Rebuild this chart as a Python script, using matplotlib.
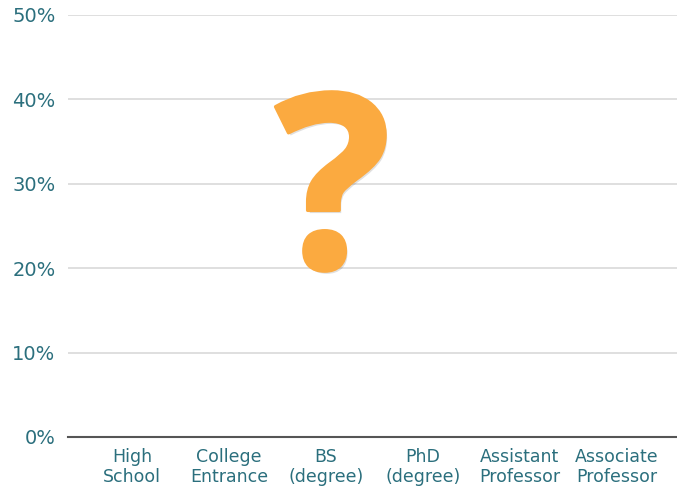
import matplotlib
matplotlib.use("Agg")
import matplotlib.pyplot as plt
import matplotlib.patheffects as pe
from matplotlib.ticker import PercentFormatter

# Data
categories = ["High\nSchool", "College\nEntrance", "BS\n(degree)", "PhD\n(degree)",
              "Assistant\nProfessor", "Associate\nProfessor"]
values = [0, 0, 0, 0, 0, 0]  # unknown -- the chart is shown empty
y_ticks = [0, 10, 20, 30, 40, 50]

TEAL = "#2b6f7d"
ORANGE = "#fbaa40"
GRID = "#d9d9d9"

plt.rcParams["font.family"] = ["DejaVu Sans"]

fig = plt.figure(figsize=(6.77, 4.87), dpi=100)
ax = fig.add_axes([68 / 677, 50 / 487, 1 - 68 / 677, 422 / 487])

x = list(range(len(categories)))
ax.bar(x, values, width=0.6, color=ORANGE)

ax.set_ylim(0, 50)
ax.set_xlim(-0.66, 5.62)
ax.set_yticks(y_ticks)
ax.yaxis.set_major_formatter(PercentFormatter(decimals=0))
ax.set_xticks(x)
ax.set_xticklabels(categories, color=TEAL, fontsize=12.5, linespacing=1.1)
ax.tick_params(axis="y", colors=TEAL, labelsize=14, length=0, pad=9)
ax.tick_params(axis="x", length=0, pad=8)

ax.grid(axis="y", color=GRID, linewidth=1.2)
ax.set_axisbelow(True)
for s in ["top", "right", "left"]:
    ax.spines[s].set_visible(False)
ax.spines["bottom"].set_color("#555555")
ax.spines["bottom"].set_linewidth(1.5)
ax.spines["bottom"].set_zorder(3)

# Big question mark (thin same-colour stroke to make it a bit heavier)
ax.text(0.435, 0.55, "?", transform=ax.transAxes, ha="center", va="center",
        fontsize=175, fontweight="bold", color=ORANGE, family=["Open Sans", "DejaVu Sans"],
        path_effects=[pe.SimplePatchShadow(offset=(1.5, -2), shadow_rgbFace="#000000", alpha=0.12),
                      pe.Stroke(linewidth=2.5, foreground=ORANGE),
                      pe.Normal()])

fig.savefig("out.png", dpi=100, facecolor="white")
